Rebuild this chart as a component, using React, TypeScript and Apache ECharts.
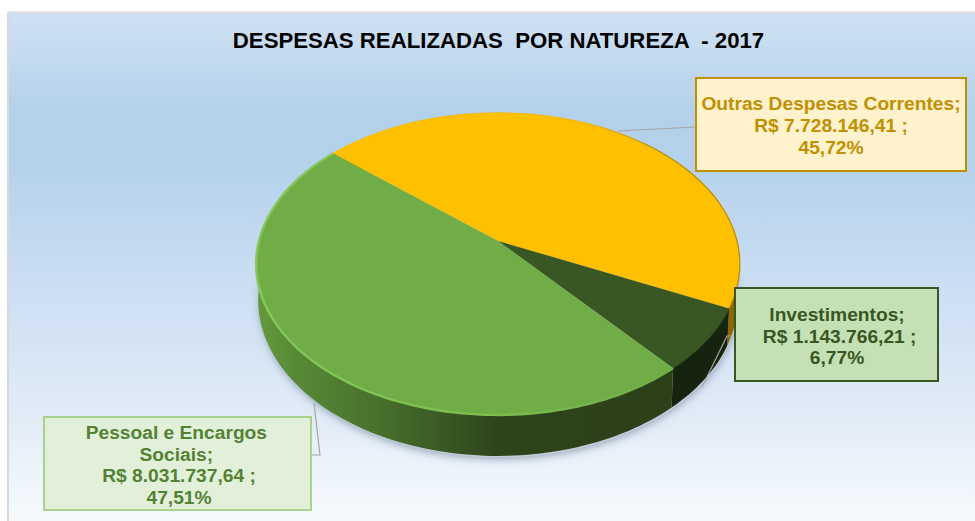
import React, { useEffect, useRef } from "react";
import * as echarts from "echarts";

const titleText = "DESPESAS REALIZADAS  POR NATUREZA  - 2017";
const categories = ["Outras Despesas Correntes;", "Investimentos;", "Pessoal e Encargos \nSociais; "];
const values = [7728146.41, 1143766.21, 8031737.64];
const valuePrefix = ["R$ ", " R$ ", "R$ "];
const faceColors = ["#ffc000", "#385723", "#70ad47"];
const textColors = ["#bf9000", "#385723", "#548235"];
const boxFills = ["#fff2cc", "#c5e0b4", "#e2f0d9"];
const boxBorders = ["#bf9000", "#385723", "#a9d18e"];
const boxes = [
  [696, 78, 270, 93],
  [735, 288, 203, 93],
  [44, 417, 267, 93],
];
const leaders = [
  [[618, 131], [696, 127]],
  [[735, 336], [727, 336], [702, 387]],
  [[311, 455], [320, 455], [314, 403]],
];
const startAngle = 220.7;

// perspective projection of the unit disc to the top face
const K = 0.152, CX = 498, CY0 = 241, RX = 239, SY = 147.5;
const rim = (deg: number) => {
  const a = (deg * Math.PI) / 180;
  const w = 1 - K * Math.sin(a);
  return [CX + (RX * Math.cos(a)) / w, CY0 + (SY * Math.sin(a)) / w];
};
const lower = (p: number[]) => [499 + ((p[0] - 499) * 240) / 242, 300 + ((p[1] - 264) * 156) / 151];

const total = values.reduce((s, v) => s + v, 0);
const sweep = (i: number) => {
  let a = startAngle;
  for (let k = 0; k < i; k++) a += (values[k] / total) * 360;
  return [a, a + (values[i] / total) * 360];
};
const arcPoints = (a0: number, a1: number) => {
  const n = Math.max(2, Math.ceil(Math.abs(a1 - a0) / 1.5));
  const pts: number[][] = [];
  for (let i = 0; i <= n; i++) pts.push(rim(a0 + ((a1 - a0) * i) / n));
  return pts;
};
const money = (v: number) => {
  const [i, d] = v.toFixed(2).split(".");
  return i.replace(/\B(?=(\d{3})+(?!\d))/g, ".") + "," + d;
};
const pct = (v: number) => ((v / total) * 100).toFixed(2).replace(".", ",") + "%";
const labelOf = (i: number) => `${categories[i]}\n${valuePrefix[i]}${money(values[i])} ;\n${pct(values[i])}`;

const grad = (stops: [number, string][]) =>
  new echarts.graphic.LinearGradient(0, 0, 1, 0, stops.map(([offset, color]) => ({ offset, color })));

const FONT = 'bold 19.2px "Liberation Sans", Arial, sans-serif';

export default function App() {
  const ref = useRef<HTMLDivElement>(null);
  useEffect(() => {
    document.body.style.margin = "0";
    const chart = echarts.init(ref.current!, null, { renderer: "svg" });

    const wallFills = [
      grad([[0, "#b88500"], [0.8, "#a87a00"], [1, "#8a6400"]]),
      grad([[0, "#16230e"], [1, "#16230e"]]),
      grad([[0, "#649a3c"], [0.1, "#578936"], [0.3, "#47702c"], [0.58, "#2d441a"], [1, "#2c4019"]]),
    ];
    const rimStrokes = [
      grad([[0, "#ffc000"], [0.62, "#f5b800"], [0.8, "#b98c00"], [1, "#b98c00"]]),
      grad([[0, "#2f4a1d"], [1, "#2f4a1d"]]),
      grad([[0, "#84c855"], [0.55, "#7cbf4e"], [1, "#70ad47"]]),
    ];

    const graphicEls: any[] = [
      {
        type: "rect", z: 0, silent: true,
        shape: { x: 8, y: 13, width: 967, height: 508 },
        style: {
          fill: new echarts.graphic.LinearGradient(0, 0, 0, 1, [
            { offset: 0, color: "#d0e1f3" },
            { offset: 0.2, color: "#b3d1eb" },
            { offset: 0.28, color: "#b3d1eb" },
            { offset: 0.5, color: "#c8dcf2" },
            { offset: 0.8, color: "#e2ecf7" },
            { offset: 1, color: "#f6fafd" },
          ]),
        },
      },
      { type: "line", z: 1, silent: true, shape: { x1: 8, y1: 12.5, x2: 975, y2: 12.5 }, style: { stroke: "#d9d9d9", lineWidth: 2 } },
      { type: "line", z: 1, silent: true, shape: { x1: 8, y1: 12, x2: 8, y2: 521 }, style: { stroke: "#d9d9d9", lineWidth: 2 } },
      {
        type: "ellipse", z: 1, silent: true,
        shape: { cx: 499, cy: 301, rx: 239, ry: 156 },
        style: { fill: "#c3cedb", shadowBlur: 9, shadowColor: "rgba(80,100,125,0.55)", shadowOffsetY: 2 },
      },
    ];
    leaders.forEach((pts) => {
      graphicEls.push({
        type: "polyline", z: 5, silent: true,
        shape: { points: pts },
        style: { stroke: "#a6a6a6", lineWidth: 1.2, fill: "none" },
      });
    });
    const textCenters = [[831, 125.5], [837, 336], [179, 465]];
    boxes.forEach((b, i) => {
      graphicEls.push({
        type: "rect", z: 6, silent: true,
        shape: { x: b[0], y: b[1], width: b[2], height: b[3] },
        style: { fill: boxFills[i], stroke: boxBorders[i], lineWidth: 2 },
      });
      graphicEls.push({
        type: "text", z: 7, silent: true,
        x: textCenters[i][0], y: textCenters[i][1],
        style: {
          text: labelOf(i), font: FONT, fill: textColors[i],
          align: "center", verticalAlign: "middle", lineHeight: 21.7,
        },
      });
    });

    chart.setOption({
      animation: false,
      backgroundColor: "#ffffff",
      title: {
        text: titleText,
        left: 493.5,
        top: 24,
        textAlign: "center",
        textStyle: { color: "#000000", fontFamily: '"Liberation Sans", Arial, sans-serif', fontWeight: "bold", fontSize: 22.2 },
      },
      graphic: { elements: graphicEls },
      series: [
        {
          type: "custom", coordinateSystem: "none", silent: true, z: 2,
          data: values,
          renderItem: (params: any) => {
            const i = params.dataIndex;
            const [a0, a1] = sweep(i);
            const top = arcPoints(a0, a1);
            const bottom = top.map(lower).reverse();
            return {
              type: "polygon",
              shape: { points: top.concat(bottom) },
              style: { fill: wallFills[i] },
            };
          },
        },
        {
          type: "custom", coordinateSystem: "none", silent: true, z: 3,
          data: values,
          renderItem: (params: any) => {
            const i = params.dataIndex;
            const [a0, a1] = sweep(i);
            const pts = arcPoints(a0, a1);
            return {
              type: "group",
              children: [
                { type: "polygon", shape: { points: [[CX, CY0], ...pts] }, style: { fill: faceColors[i] } },
                { type: "polyline", shape: { points: pts }, style: { fill: "none", stroke: rimStrokes[i], lineWidth: i === 2 ? 2.4 : 1.2 } },
              ],
            };
          },
        },
      ],
    });
    return () => chart.dispose();
  }, []);
  return <div ref={ref} style={{ position: "absolute", left: 0, top: 0, width: 975, height: 521 }} />;
}
